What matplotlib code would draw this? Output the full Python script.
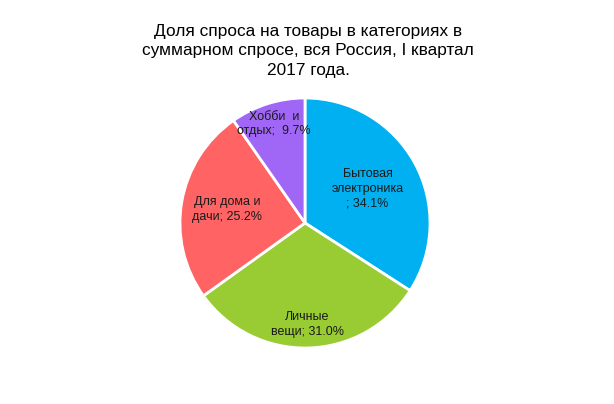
import matplotlib.pyplot as plt
import numpy as np

plt.rcParams['font.family'] = ['Liberation Sans', 'DejaVu Sans']

# Data
labels = ['Бытовая\nэлектроника\n; 34.1%', 'Личные\nвещи; 31.0%',
          'Для дома и\nдачи; 25.2%', 'Хобби  и\nотдых;  9.7%']
values = [34.1, 31.0, 25.2, 9.7]
colors = ['#00B0F0', '#99CC33', '#FF6363', '#A066F5']
label_radius = [0.57, 0.81, 0.63, 0.83]

fig = plt.figure(figsize=(6.14, 4.04), dpi=100)
cx, cy, r = 305, 223, 125
ax = fig.add_axes([(cx - r) / 614, (404 - cy - r) / 404, 2 * r / 614, 2 * r / 404])

wedges, _ = ax.pie(values, colors=colors, startangle=90, counterclock=False,
                   wedgeprops=dict(edgecolor='white', linewidth=2))

# Labels inside the wedges
for w, lab, d in zip(wedges, labels, label_radius):
    ang = np.deg2rad((w.theta1 + w.theta2) / 2)
    ax.text(d * np.cos(ang), d * np.sin(ang), lab, ha='center', va='center',
            fontsize=9, color='#1a1a1a', linespacing=1.3)

ax.set_xlim(-1.0, 1.0)
ax.set_ylim(-1.0, 1.0)

fig.text(308 / 614, 1 - 51 / 404,
         'Доля спроса на товары в категориях в\nсуммарном спросе, вся Россия, I квартал\n2017 года.',
         ha='center', va='center', fontsize=12.4, linespacing=1.4)

fig.savefig('out.png', dpi=100)
